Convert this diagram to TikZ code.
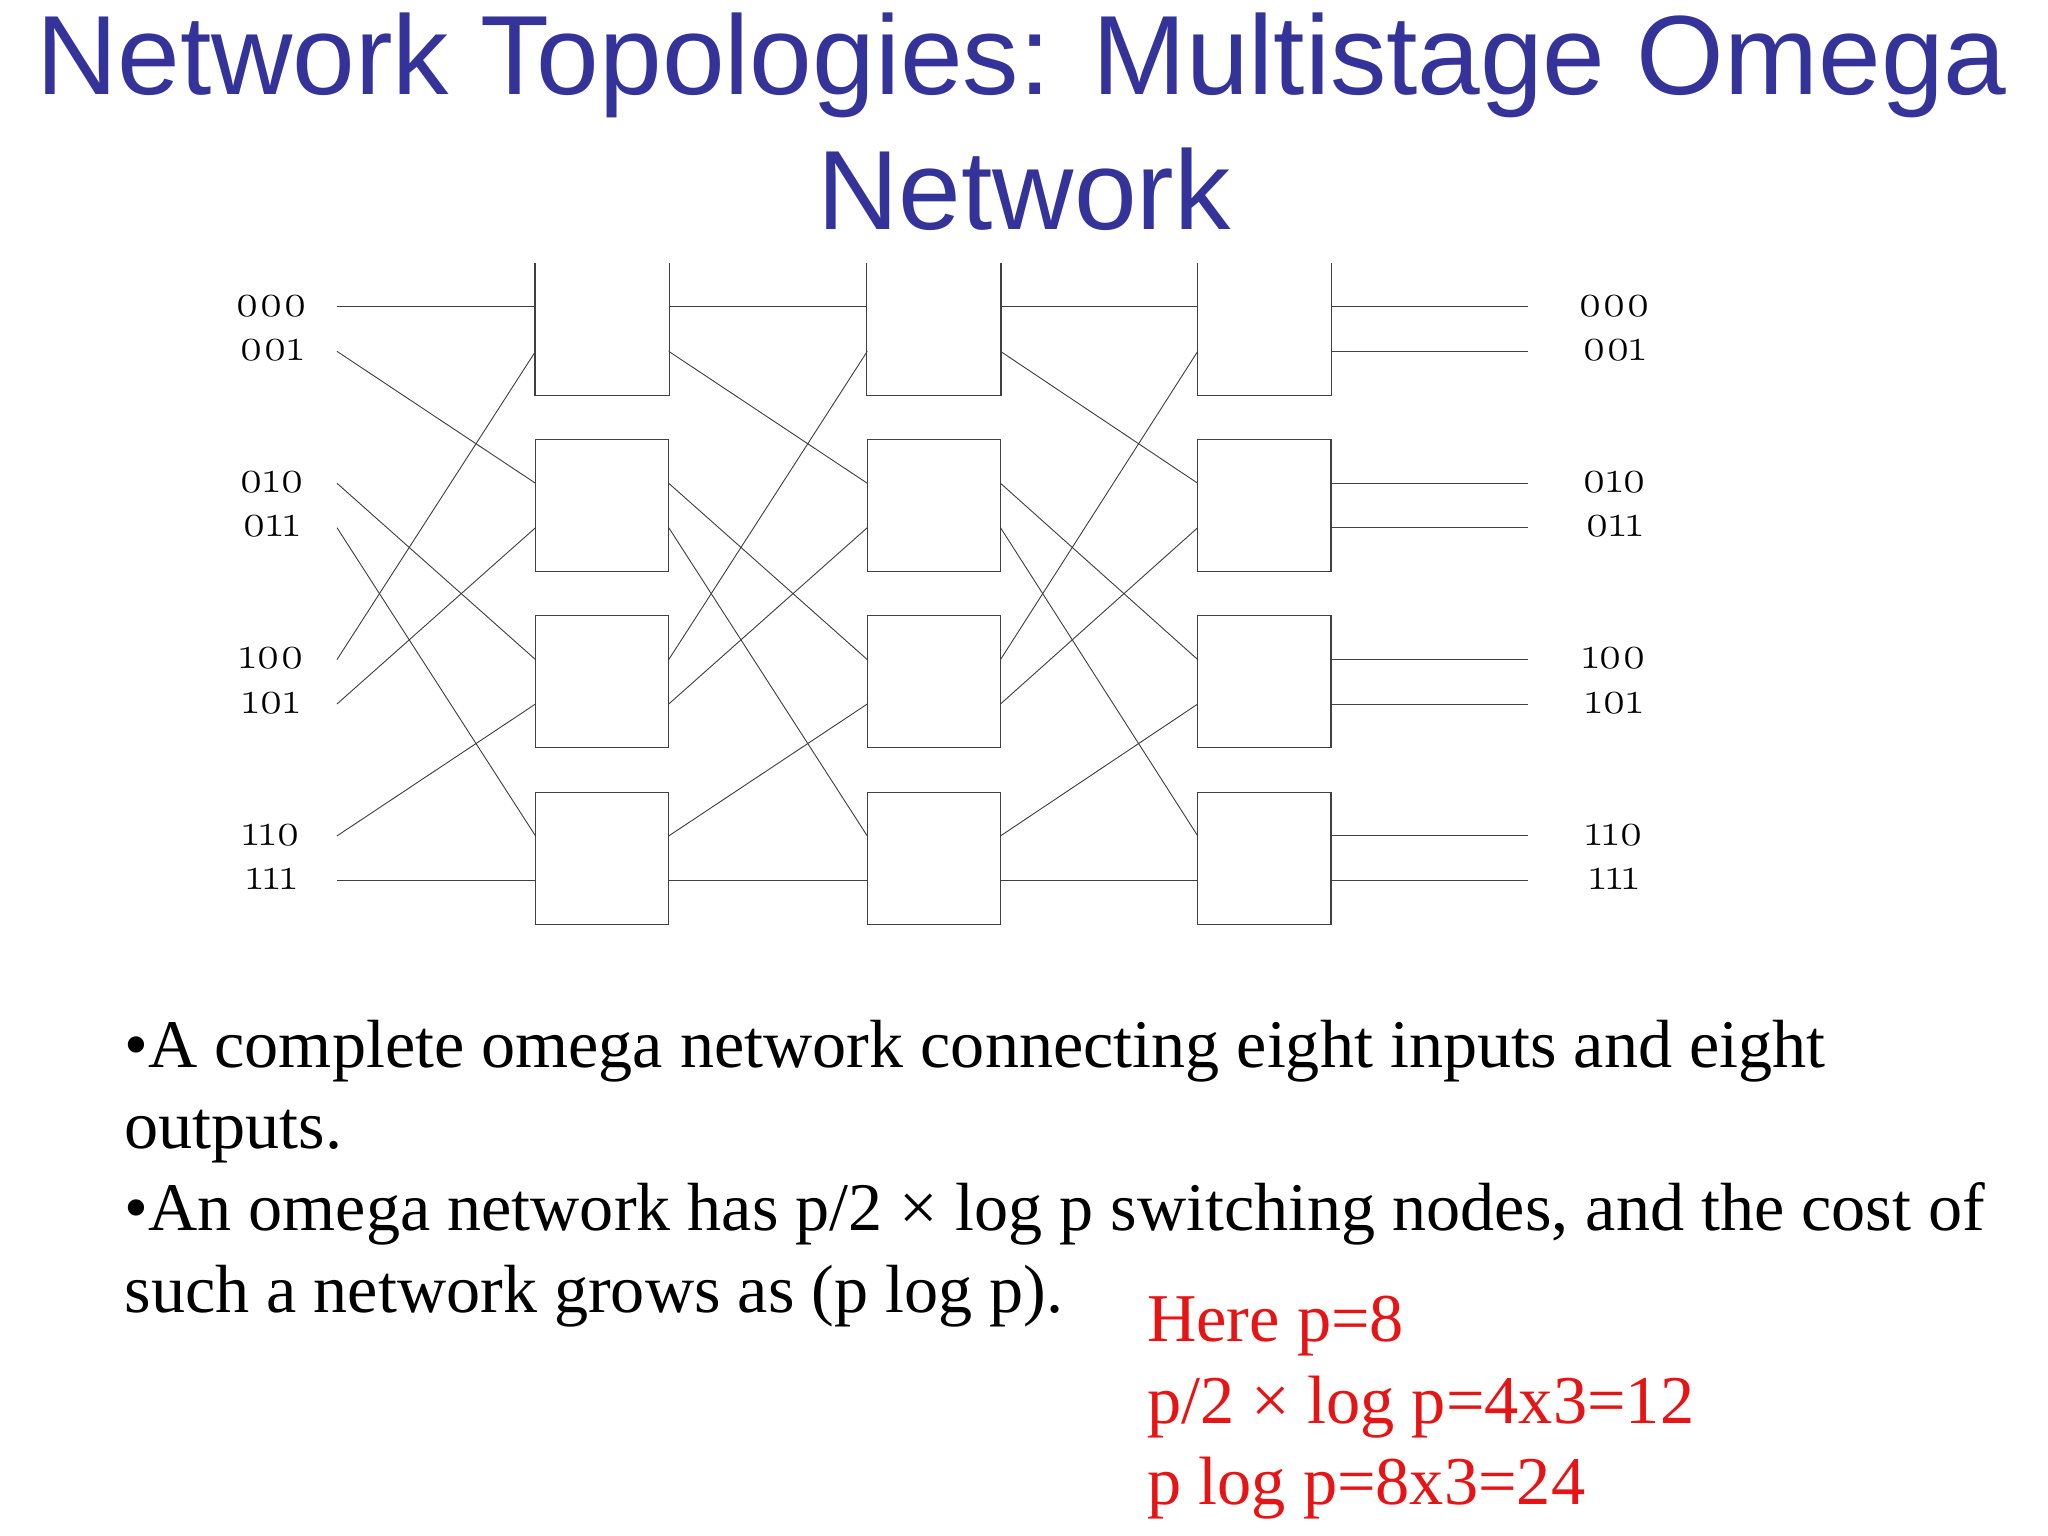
\documentclass[tikz,border=0pt]{standalone}
\usepackage{fontspec}
\setmainfont{Liberation Serif}
\newfontfamily\titlefont{Liberation Sans}
\newfontfamily\oldnum[Numbers=OldStyle]{Latin Modern Roman}
\begin{document}
\begin{tikzpicture}[x=0.02cm,y=-0.02cm,
  wire/.style={line width=0.4pt,black!75},
  swbase/.style={line width=0.5pt,minimum width=2.04cm,minimum height=2.02cm,inner sep=0pt},
  sw/.style={swbase,draw=black!75},
  lab/.style={font=\oldnum\fontsize{20}{20}\selectfont,anchor=mid},
  body/.style={font=\fontsize{29.7}{29.7}\selectfont,anchor=base west,inner sep=0pt},
  red/.style={body,font=\fontsize{29.8}{29.8}\selectfont,text={rgb,255:red,230;green,20;blue,20}}]
\useasboundingbox (0,0) rectangle (1568,1176);
\fill[white] (0,0) rectangle (1568,1176);
\definecolor{tblue}{RGB}{51,51,153}
\node[anchor=base,text=tblue,font=\titlefont\fontsize{49.1}{49.1}\selectfont] (t1) at (782,72) {Network Topologies: Multistage Omega};
\node[anchor=base,text=tblue,font=\titlefont\fontsize{49.1}{49.1}\selectfont] (t2) at (784,176) {Network};
% switches
\foreach \s/\x in {0/461,1/715,2/968}{
  \node[swbase] (b\s0) at (\x,252) {};
  \draw[black!75,line width=0.5pt] (b\s0.north west) |- (b\s0.south east) -- (b\s0.north east);
  \foreach \r in {1,2,3}{
    \node[sw] (b\s\r) at (\x,{252+135*\r}) {};
  }
}
% port coordinates
\foreach \s/\x in {0/461,1/715,2/968}{
  \foreach \p in {0,...,7}{
    \pgfmathsetmacro{\yy}{235+135*floor(\p/2)+34*mod(\p,2)}
    \coordinate (L\s\p) at (\x-51,\yy);
    \coordinate (R\s\p) at (\x+51,\yy);
  }
}
\foreach \j/\lbl in {0/000,1/001,2/010,3/011,4/100,5/101,6/110,7/111}{
  \pgfmathsetmacro{\yy}{235+135*floor(\j/2)+34*mod(\j,2)}
  \node[lab] (in\j) at (208,\yy+3) {\lbl};
  \node[lab] (out\j) at (1236,\yy+3) {\lbl};
  \coordinate (is\j) at (258,\yy);
  \coordinate (oe\j) at (1170,\yy);
  \pgfmathtruncatemacro{\t}{mod(2*\j,8)+(\j>3 ? 1 : 0)}
  \draw[wire] (is\j) -- (L0\t);
  \draw[wire] (R0\j) -- (L1\t);
  \draw[wire] (R1\j) -- (L2\t);
  \draw[wire] (R2\j) -- (oe\j);
}
\node[body] (p1) at (95,817) {•A complete omega network connecting eight inputs and eight};
\node[body] (p2) at (95,879) {outputs.};
\node[body] (p3) at (95,942) {•An omega network has p/2 × log p switching nodes, and the cost of};
\node[body] (p4) at (95,1005) {such a network grows as (p log p).};
\node[red] (r1) at (878,1027) {Here p=8};
\node[red] (r2) at (878,1090) {p/2 × log p=4x3=12};
\node[red] (r3) at (878,1152) {p log p=8x3=24};
\end{tikzpicture}
\end{document}
